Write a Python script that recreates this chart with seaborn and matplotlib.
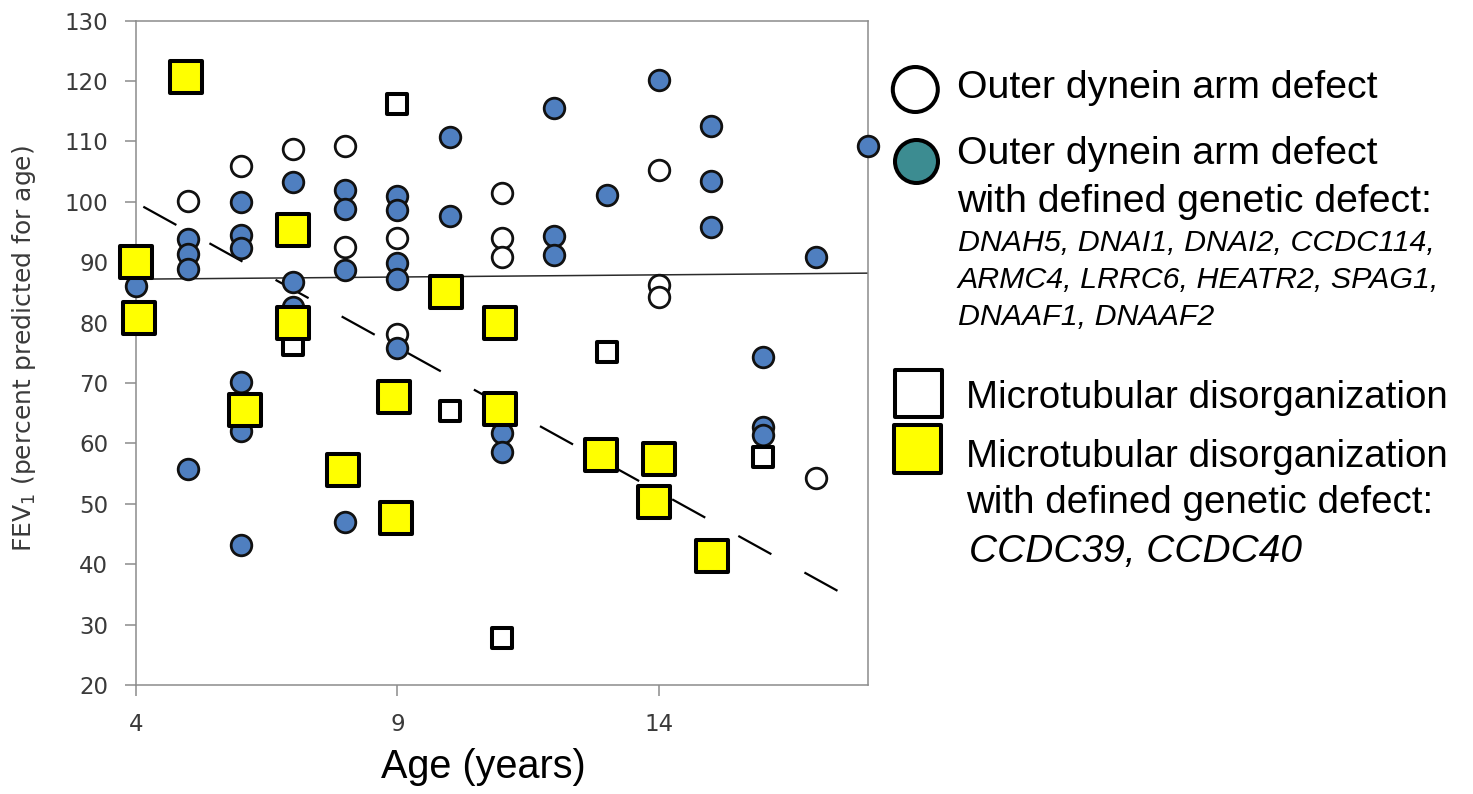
import numpy as np
import pandas as pd
import matplotlib
matplotlib.use("Agg")
import matplotlib.pyplot as plt
from matplotlib.patches import Circle, Rectangle
import seaborn as sns

# ---------------- data ----------------
# Outer dynein arm defect (open circles)
odad_age = [5, 6, 7, 8, 8, 9, 9, 11, 11, 11, 14, 14, 14, 17]
odad_fev = [100.1, 106.0, 108.7, 109.3, 92.6, 94.0, 78.2, 101.4, 94.1, 90.8,
            105.2, 86.2, 84.3, 54.3]

# Outer dynein arm defect with defined genetic defect (blue circles)
odad_gen_age = [4, 5, 5, 5, 5, 6, 6, 6, 6, 6, 6, 7, 7, 7, 8, 8, 8, 8,
                9, 9, 9, 9, 9, 10, 10, 11, 11, 12, 12, 12, 13, 14,
                15, 15, 15, 16, 16, 16, 17, 18]
odad_gen_fev = [86.1, 93.8, 91.4, 88.9, 55.8, 100.0, 94.5, 92.4, 70.1, 62.0, 43.1,
                103.3, 86.8, 82.6, 102.0, 98.8, 88.8, 47.0,
                100.9, 98.7, 89.8, 87.2, 75.8, 110.8, 97.6, 61.7, 58.6,
                115.5, 94.4, 91.2, 101.1, 120.2, 112.6, 103.5, 95.9,
                74.3, 62.8, 61.4, 90.8, 109.3]

# Microtubular disorganization (open squares)
md_age = [7, 9, 10, 11, 13, 16]
md_fev = [76.3, 116.2, 65.4, 27.8, 75.2, 57.7]

# Microtubular disorganization with defined genetic defect (yellow squares)
md_gen_age = [4.0, 4.05, 4.95, 6.08, 7.0, 7.0, 7.96, 8.94, 8.98, 9.93,
              10.96, 10.96, 12.9, 14.0, 13.9, 15.02]
md_gen_fev = [90.0, 80.7, 120.7, 65.6, 95.3, 79.9, 55.6, 67.7, 47.6, 85.1,
              80.0, 65.7, 58.1, 57.4, 50.3, 41.3]

# Trend lines (end points)
solid_trend_age = [4.0, 18.0]
solid_trend_fev = [87.2, 88.2]
dashed_trend_age = [4.14, 17.5]
dashed_trend_fev = [99.2, 35.2]

x_ticks = [4, 9, 14]
y_ticks = [20, 30, 40, 50, 60, 70, 80, 90, 100, 110, 120, 130]

legend_main = ["Outer dynein arm defect",
               "Outer dynein arm defect",
               "with defined genetic defect:",
               "Microtubular disorganization",
               "Microtubular disorganization",
               "with defined genetic defect:"]
legend_genes_odad = ["DNAH5, DNAI1, DNAI2, CCDC114,",
                     "ARMC4, LRRC6, HEATR2, SPAG1,",
                     "DNAAF1, DNAAF2"]
legend_genes_md = "CCDC39, CCDC40"

# ---------------- style ----------------
sns.set_theme(style="white")
plt.rcParams['font.family'] = ['DejaVu Sans']

W, H = 1473, 794
fig = plt.figure(figsize=(W / 100, H / 100), dpi=100)
fig.patch.set_facecolor("white")

ax_l, ax_r, ax_t, ax_b = 136, 868, 20.7, 685
ax = fig.add_axes([ax_l / W, 1 - ax_b / H, (ax_r - ax_l) / W, (ax_b - ax_t) / H])

BLUE = "#4f7fc0"
EDGE = "#111111"

# trend lines
sns.lineplot(x=solid_trend_age, y=solid_trend_fev, ax=ax, color="#2b2b2b",
             linewidth=1.1, zorder=1)
sns.lineplot(x=dashed_trend_age, y=dashed_trend_fev, ax=ax, color="black",
             linewidth=1.6, zorder=1)
ax.lines[-1].set_dashes([17, 17])

# points
sns.scatterplot(x=odad_age, y=odad_fev, ax=ax, marker="o", s=220,
                color="white", edgecolor=EDGE, linewidth=2.0, zorder=3,
                clip_on=False)
sns.scatterplot(x=odad_gen_age, y=odad_gen_fev, ax=ax, marker="o", s=220,
                color=BLUE, edgecolor=EDGE, linewidth=2.0, zorder=4,
                clip_on=False)
sns.scatterplot(x=md_age, y=md_fev, ax=ax, marker="s", s=205,
                color="white", edgecolor="black", linewidth=2.9, zorder=5,
                clip_on=False)
sns.scatterplot(x=md_gen_age, y=md_gen_fev, ax=ax, marker="s", s=550,
                color="#ffff00", edgecolor="black", linewidth=2.9, zorder=6,
                clip_on=False)

ax.set_xlim(4, 18)
ax.set_ylim(20, 130)
ax.set_xticks(x_ticks)
ax.set_yticks(y_ticks)
ax.grid(False)
for sp in ax.spines.values():
    sp.set_visible(True)
    sp.set_color("#8c8c8c")
    sp.set_linewidth(1.1)
ax.tick_params(axis="both", direction="out", length=8, width=1.1,
               color="#8c8c8c", labelsize=16.5, labelcolor="#3a3a3a", pad=12)
ax.tick_params(axis="x", bottom=True)
ax.tick_params(axis="y", left=True)

ax.set_ylabel(r"FEV$_1$ (percent predicted for age)", fontsize=18,
              color="#3a3a3a")
ax.yaxis.set_label_coords(-0.134, 0.506)
ax.set_xlabel("Age (years)", fontsize=28.5, family="Liberation Sans",
              color="black")
ax.xaxis.set_label_coords(0.474, -0.095)

# ---------------- custom legend (pixel coordinates) ----------------
lax = fig.add_axes([0, 0, 1, 1])
lax.set_xlim(0, W)
lax.set_ylim(H, 0)
lax.axis("off")
lax.patch.set_alpha(0)

lax.add_patch(Circle((915.3, 89.5), 22.5, facecolor="white", edgecolor="black", lw=2.9))
lax.add_patch(Circle((916.5, 161.5), 21.5, facecolor="#3c8c91", edgecolor="black", lw=2.9))
lax.add_patch(Rectangle((918.3 - 23.5, 393.5 - 23.5), 47, 47, facecolor="white",
                        edgecolor="black", lw=2.9, joinstyle="round"))
lax.add_patch(Rectangle((917.5 - 23.5, 449 - 24), 47, 48, facecolor="#ffff00",
                        edgecolor="black", lw=2.9, joinstyle="round"))

main_font = dict(family="Liberation Sans", fontsize=28.3, color="black", va="baseline", ha="left")
lax.text(957, 98.3, legend_main[0], **main_font)
lax.text(957, 164.0, legend_main[1], **main_font)
lax.text(957, 211.7, legend_main[2], **main_font)
gene_font = dict(family="Liberation Sans", fontsize=21.9, style="italic",
                 color="black", va="baseline", ha="left")
for txt, yb in zip(legend_genes_odad, [250.7, 288.3, 325.0]):
    lax.text(958, yb, txt, **gene_font)

main_font2 = dict(main_font, fontsize=27.7)
lax.text(966, 408.3, legend_main[3], **main_font2)
lax.text(966, 466.7, legend_main[4], **main_font2)
lax.text(966, 513.3, legend_main[5], **main_font2)
lax.text(969, 561.7, legend_genes_md, family="Liberation Sans", fontsize=28,
         style="italic", color="black", va="baseline", ha="left")

fig.savefig("out.png", dpi=100, facecolor="white")
